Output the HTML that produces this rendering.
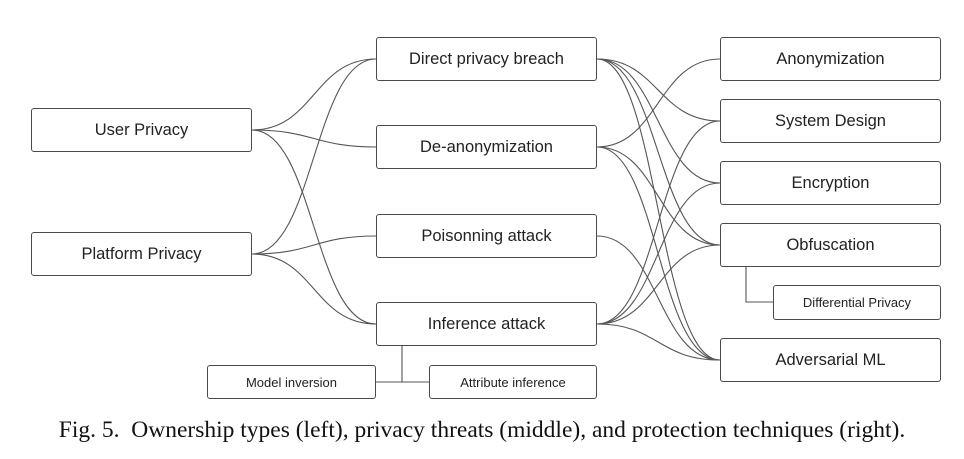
<!DOCTYPE html>
<html><head><meta charset="utf-8"><style>
body{margin:0;background:#fff;width:964px;height:459px;overflow:hidden;position:relative;font-family:"Liberation Sans",sans-serif}
.b{position:absolute;border:1px solid #4a4a4a;border-radius:3px;background:#fff;display:flex;align-items:center;justify-content:center;font-size:16.5px;color:#222;box-sizing:border-box}
.s{font-size:13px}
svg{position:absolute;left:0;top:0}
.cap{position:absolute;left:0;width:964px;top:417px;text-align:center;font-family:"Liberation Serif",serif;font-size:23.5px;color:#111;white-space:nowrap}
</style></head><body>
<svg width="964" height="459" fill="none" stroke="#555" stroke-width="1.1">
<path d="M252 130 C314 130 314 59 376 59"/>
<path d="M252 130 C314 130 314 147 376 147"/>
<path d="M252 130 C314 130 314 324 376 324"/>
<path d="M252 254 C314 254 314 59 376 59"/>
<path d="M252 254 C314 254 314 236 376 236"/>
<path d="M252 254 C314 254 314 324 376 324"/>
<path d="M597 59 C658 59 658 121 720 121"/>
<path d="M597 59 C658 59 658 183 720 183"/>
<path d="M597 59 C658 59 658 245 720 245"/>
<path d="M597 59 C658 59 658 360 720 360"/>
<path d="M597 147 C658 147 658 59 720 59"/>
<path d="M597 147 C658 147 658 245 720 245"/>
<path d="M597 147 C658 147 658 360 720 360"/>
<path d="M597 236 C658 236 658 360 720 360"/>
<path d="M597 324 C658 324 658 121 720 121"/>
<path d="M597 324 C658 324 658 183 720 183"/>
<path d="M597 324 C658 324 658 245 720 245"/>
<path d="M597 324 C658 324 658 360 720 360"/>
<path d="M402 346 V382 M376 382 H429"/>
<path d="M746 267 V302 H773"/>
</svg>
<div class="b" style="left:31px;top:108px;width:221px;height:44px">User Privacy</div>
<div class="b" style="left:31px;top:232px;width:221px;height:44px">Platform Privacy</div>
<div class="b" style="left:376px;top:37px;width:221px;height:44px">Direct privacy breach</div>
<div class="b" style="left:376px;top:125px;width:221px;height:44px">De-anonymization</div>
<div class="b" style="left:376px;top:214px;width:221px;height:44px">Poisonning attack</div>
<div class="b" style="left:376px;top:302px;width:221px;height:44px">Inference attack</div>
<div class="b s" style="left:207px;top:365px;width:169px;height:34px">Model inversion</div>
<div class="b s" style="left:429px;top:365px;width:168px;height:34px">Attribute inference</div>
<div class="b" style="left:720px;top:37px;width:221px;height:44px">Anonymization</div>
<div class="b" style="left:720px;top:99px;width:221px;height:44px">System Design</div>
<div class="b" style="left:720px;top:161px;width:221px;height:44px">Encryption</div>
<div class="b" style="left:720px;top:223px;width:221px;height:44px">Obfuscation</div>
<div class="b s" style="left:773px;top:285px;width:168px;height:35px">Differential Privacy</div>
<div class="b" style="left:720px;top:338px;width:221px;height:44px">Adversarial ML</div>
<div class="cap">Fig. 5.&nbsp; Ownership types (left), privacy threats (middle), and protection techniques (right).</div>
</body></html>
